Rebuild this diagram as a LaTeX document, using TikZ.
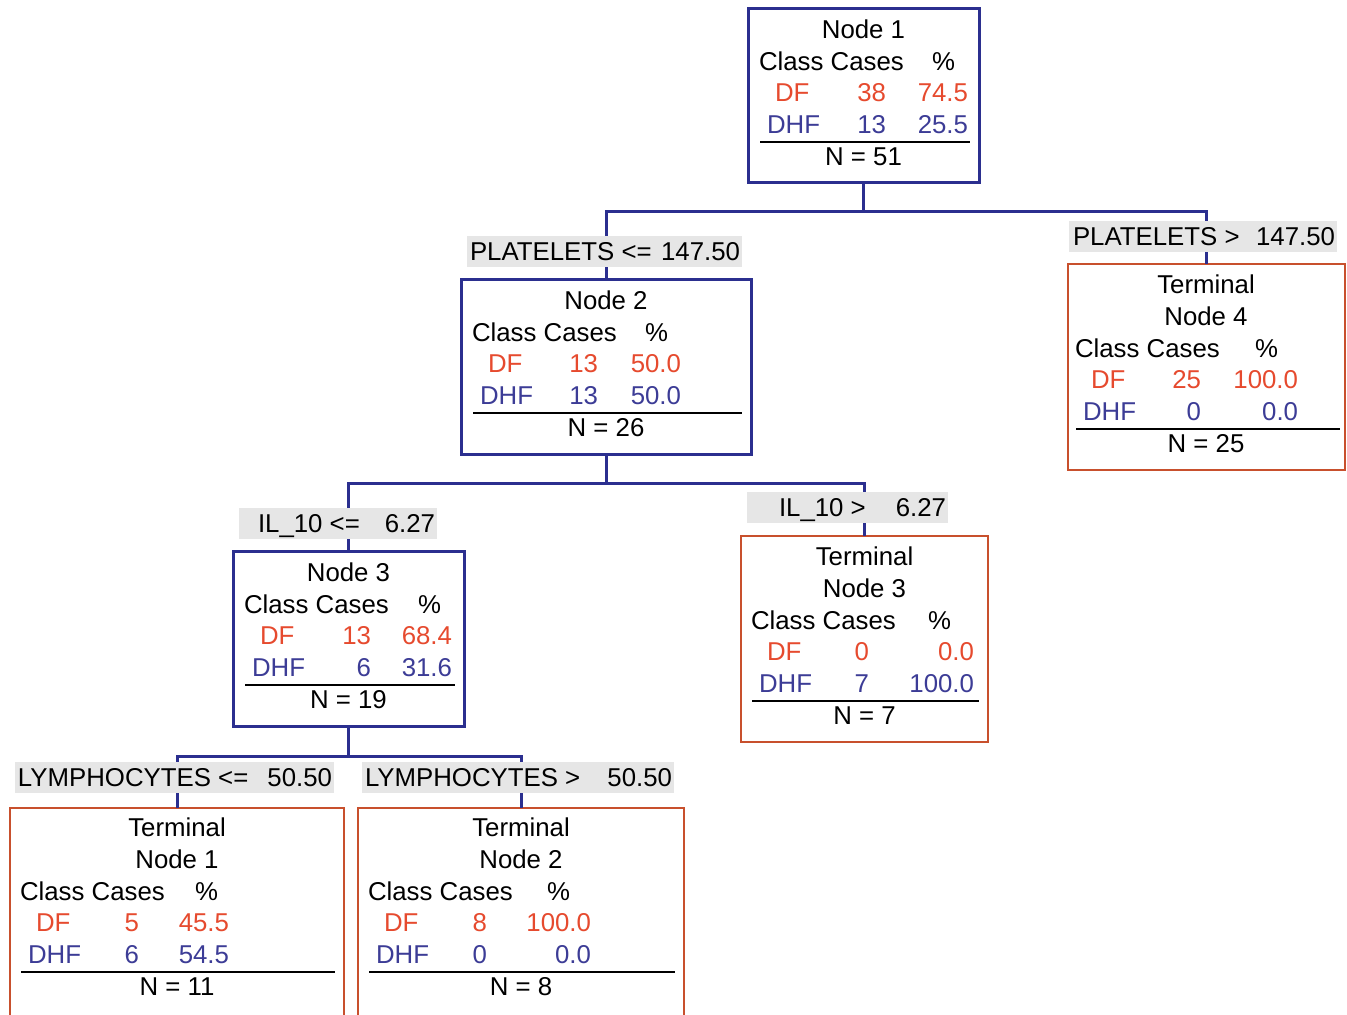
\documentclass[tikz,border=0pt]{standalone}
\usepackage{fontspec}
\setmainfont{Liberation Sans}
\usetikzlibrary{fit}
\definecolor{boxblue}{HTML}{2B2F8F}
\definecolor{boxred}{HTML}{C8502D}
\definecolor{dfred}{HTML}{E64A2E}
\definecolor{dhfblue}{HTML}{3C3C96}
\definecolor{condgray}{HTML}{E6E6E6}
\tikzset{
  txt/.style={inner sep=0pt, outer sep=0pt, font=\fontsize{12.9}{15}\selectfont},
  splitbox/.style={draw=boxblue, line width=1.5pt, inner sep=0pt, outer sep=0pt},
  termbox/.style={draw=boxred, line width=1pt, inner sep=0pt, outer sep=0pt},
  conn/.style={draw=boxblue, line width=1.5pt},
  rowrule/.style={draw=black, line width=1pt},
  condlabel/.style={fill=condgray, inner sep=0pt, outer sep=0pt},
}
% parameters: header left x, header baseline y, centre x, cases right, pct right, % right, rule end x
\newcommand\boxparams[7]{\def\bx{#1}\def\by{#2}\def\bc{#3}\def\bcR{#4}\def\bpR{#5}\def\bsR{#6}\def\bre{#7}}
\newcommand\stats[6]{%
  \node[txt,anchor=base west] (#1-h) at (\bx,\by) {Class Cases};
  \node[txt,anchor=base east] (#1-hp) at ({\bx+\bsR},\by) {\%};
  \node[txt,text=dfred,anchor=base west] (#1-df) at ({\bx+16},{\by+31.8}) {DF};
  \node[txt,text=dfred,anchor=base east] (#1-dfn) at ({\bx+\bcR},{\by+31.8}) {#2};
  \node[txt,text=dfred,anchor=base east] (#1-dfp) at ({\bx+\bpR},{\by+31.8}) {#3};
  \node[txt,text=dhfblue,anchor=base west] (#1-dhf) at ({\bx+8},{\by+63.6}) {DHF};
  \node[txt,text=dhfblue,anchor=base east] (#1-dhfn) at ({\bx+\bcR},{\by+63.6}) {#4};
  \node[txt,text=dhfblue,anchor=base east] (#1-dhfp) at ({\bx+\bpR},{\by+63.6}) {#5};
  \draw[rowrule] ({\bx+1},{\by+71.7}) -- (\bre,{\by+71.7});
  \node[txt,anchor=base] (#1-n) at (\bc,{\by+95.2}) {N = #6};
}
\newcommand\cond[7]{%
  \node[condlabel, fit={(#2,#4) (#3,{#4+31})}] (#1) {};
  \node[txt,anchor=base west] (#1-l) at (#5,{#4+24.5}) {#6};
  \node[txt,anchor=base east] (#1-r) at ({#3-2},{#4+24.5}) {#7};
}
\begin{document}
\begin{tikzpicture}[x=0.5pt,y=-0.5pt]
\useasboundingbox (0,0) rectangle (1347,1014);
\fill[white] (0,0) rectangle (1347,1014);

% boxes
\node[splitbox, fit={(748,8) (979,182)}] (n1) {};
\node[splitbox, fit={(461,279) (751,454)}] (n2) {};
\node[termbox, fit={(1068,264) (1345,470)}] (t4) {};
\node[splitbox, fit={(233,551) (464,726)}] (n3) {};
\node[termbox, fit={(741,536) (988,742)}] (t3) {};
\node[termbox, fit={(10,808) (344,1016)}] (t1) {};
\node[termbox, fit={(358,808) (684,1016)}] (t2) {};

% connectors
\draw[conn] (n1.south) -- ++(0,29) coordinate (s1);
\draw[conn] (n2.north) |- (s1) -| (t4.north);
\draw[conn] (n2.south) -- ++(0,29) coordinate (s2);
\draw[conn] (n3.north) |- (s2) -| (t3.north);
\draw[conn] (n3.south) -- ++(0,30) coordinate (s3);
\draw[conn] (t1.north) |- (s3) -| (t2.north);

% split conditions
\cond{c1}{467}{742}{236}{470}{PLATELETS <=}{147.50}
\cond{c2}{1069}{1337}{221}{1073}{PLATELETS >}{147.50}
\cond{c3}{239}{437}{508}{258}{IL\_10 <=}{6.27}
\cond{c4}{747}{948}{492}{779}{IL\_10 >}{6.27}
\cond{c5}{15}{334}{762}{18}{LYMPHOCYTES <=}{50.50}
\cond{c6}{362}{674}{762}{365}{LYMPHOCYTES >}{50.50}

% Node 1
\boxparams{759}{70}{863.5}{127}{209}{196}{970}
\node[txt,anchor=base] (n1-t) at (\bc,{\by-31.8}) {Node 1};
\stats{n1}{38}{74.5}{13}{25.5}{51}

% Node 2
\boxparams{472}{341}{606}{126}{209}{196}{742}
\node[txt,anchor=base] (n2-t) at (\bc,{\by-31.8}) {Node 2};
\stats{n2}{13}{50.0}{13}{50.0}{26}

% Terminal Node 4
\boxparams{1075}{357}{1206}{126}{223}{203}{1340}
\node[txt,anchor=base] (t4-a) at (\bc,{\by-63.6}) {Terminal};
\node[txt,anchor=base] (t4-b) at (\bc,{\by-31.8}) {Node 4};
\stats{t4}{25}{100.0}{0}{0.0}{25}

% Node 3
\boxparams{244}{613}{348.5}{127}{208}{197}{455}
\node[txt,anchor=base] (n3-t) at (\bc,{\by-31.8}) {Node 3};
\stats{n3}{13}{68.4}{6}{31.6}{19}

% Terminal Node 3
\boxparams{751}{629}{864.5}{118}{223}{200}{979}
\node[txt,anchor=base] (t3-a) at (\bc,{\by-63.6}) {Terminal};
\node[txt,anchor=base] (t3-b) at (\bc,{\by-31.8}) {Node 3};
\stats{t3}{0}{0.0}{7}{100.0}{7}

% Terminal Node 1
\boxparams{20}{900}{177}{119}{209}{198}{335}
\node[txt,anchor=base] (t1-a) at (\bc,{\by-63.6}) {Terminal};
\node[txt,anchor=base] (t1-b) at (\bc,{\by-31.8}) {Node 1};
\stats{t1}{5}{45.5}{6}{54.5}{11}

% Terminal Node 2
\boxparams{368}{900}{521}{119}{223}{202}{675}
\node[txt,anchor=base] (t2-a) at (\bc,{\by-63.6}) {Terminal};
\node[txt,anchor=base] (t2-b) at (\bc,{\by-31.8}) {Node 2};
\stats{t2}{8}{100.0}{0}{0.0}{8}
\end{tikzpicture}
\end{document}
